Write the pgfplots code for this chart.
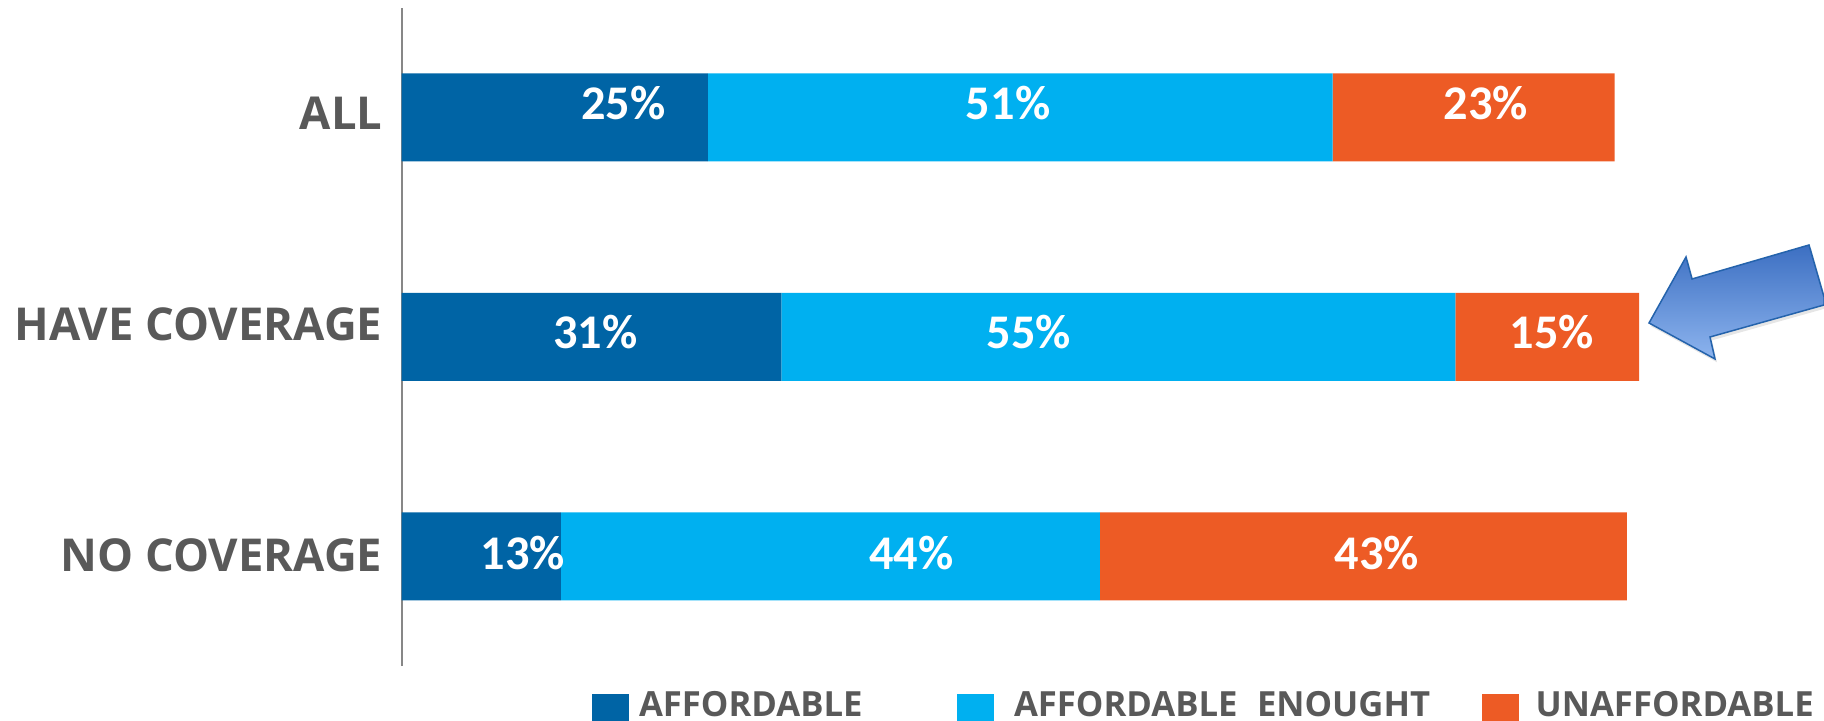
\documentclass[border=0pt]{standalone}
\usepackage{pgfplots}
\pgfplotsset{compat=1.18}
\usepackage{fontspec}
\setmainfont{Open Sans}
\newfontfamily\valfont{Carlito}
\usetikzlibrary{shadows}
\definecolor{cDark}{HTML}{0064A5}
\definecolor{cLight}{HTML}{00B0F0}
\definecolor{cOrange}{HTML}{ED5B25}
\definecolor{cText}{HTML}{595959}
\definecolor{cAxis}{HTML}{878787}
\definecolor{arrTop}{HTML}{3C6FC2}
\definecolor{arrBot}{HTML}{8DB4EE}
\definecolor{arrLine}{HTML}{2463AC}
\tikzset{vlab/.style={anchor=base, text=white, inner sep=0pt, font=\valfont\bfseries\fontsize{14.5}{16}\selectfont}}
\begin{document}
\begin{tikzpicture}
\path[use as bounding box] (0,0) rectangle (547.2pt,216.3pt);
\begin{axis}[
  at={(120.51pt,16.425pt)}, anchor=south west,
  scale only axis, width=426.69pt, height=197.55pt,
  xbar stacked, bar width=26.4pt,
  xmin=0, xmax=116.1, ymin=0.5, ymax=3.5,
  axis x line=none, axis y line*=left,
  axis line style={-, draw=cAxis, line width=0.6pt},
  ytick={1,2,3},
  yticklabels={\raisebox{-4.6pt}{NO COVERAGE},\raisebox{-1.1pt}{HAVE COVERAGE},\raisebox{-3.7pt}{ALL}},
  yticklabel style={anchor=base east, inner sep=0pt, xshift=-5.6pt, font=\bfseries\fontsize{13.6}{15}\selectfont, text=cText},
  major tick length=0pt,
  xtick=\empty,
  clip=false,
  legend columns=3,
  legend cell align=left,
  legend style={at={(axis description cs:0.1338,-0.0376)}, anchor=north west,
    draw=none, fill=none, inner sep=0pt, outer sep=0pt,
    nodes={inner sep=0pt, text=cText, font=\bfseries\fontsize{10.4}{12}\selectfont},
    /tikz/every odd column/.append style={column sep=3pt}},
  legend image code/.code={\path[#1, draw=none] (0pt,-7.6pt) rectangle (11.1pt,3.6pt);},
]
\addplot[fill=cDark, draw=none] coordinates {(13,1) (31,2) (25,3)};
\addlegendentry{\makebox[95.4pt][l]{AFFORDABLE}}
\addplot[fill=cLight, draw=none] coordinates {(44,1) (55,2) (51,3)};
\addlegendentry{\makebox[143.4pt][l]{\hspace*{3pt}AFFORDABLE\hspace{0.3em} ENOUGHT}}
\addplot[fill=cOrange, draw=none] coordinates {(43,1) (15,2) (23,3)};
\addlegendentry{\hspace*{2pt}UNAFFORDABLE}
\coordinate (a1) at (axis cs:18.1,2.9886);
\coordinate (a2) at (axis cs:49.5,2.9886);
\coordinate (a3) at (axis cs:88.5,2.9886);
\coordinate (b1) at (axis cs:15.8,1.9453);
\coordinate (b2) at (axis cs:51.2,1.9453);
\coordinate (b3) at (axis cs:93.9,1.9453);
\coordinate (c1) at (axis cs:9.9,0.9408);
\coordinate (c2) at (axis cs:41.6,0.9408);
\coordinate (c3) at (axis cs:79.6,0.9408);
\end{axis}
\node[vlab] at (a1) {25\%};
\node[vlab] at (a2) {51\%};
\node[vlab] at (a3) {23\%};
\node[vlab] at (b1) {31\%};
\node[vlab] at (b2) {55\%};
\node[vlab] at (b3) {15\%};
\node[vlab] at (c1) {13\%};
\node[vlab] at (c2) {44\%};
\node[vlab] at (c3) {43\%};
\begin{scope}[x=0.3pt, y=-0.3pt, yshift=216.3pt]
\shade[top color=arrTop, bottom color=arrBot, draw=arrLine, line width=0.45pt,
  drop shadow={shadow xshift=0.6pt, shadow yshift=-1pt, opacity=0.2}]
  (1649,323) -- (1686,257) -- (1692,279) -- (1809,245) -- (1824,297) -- (1824,305)
  -- (1710,337) -- (1715,359) -- cycle;
\end{scope}
\end{tikzpicture}
\end{document}
